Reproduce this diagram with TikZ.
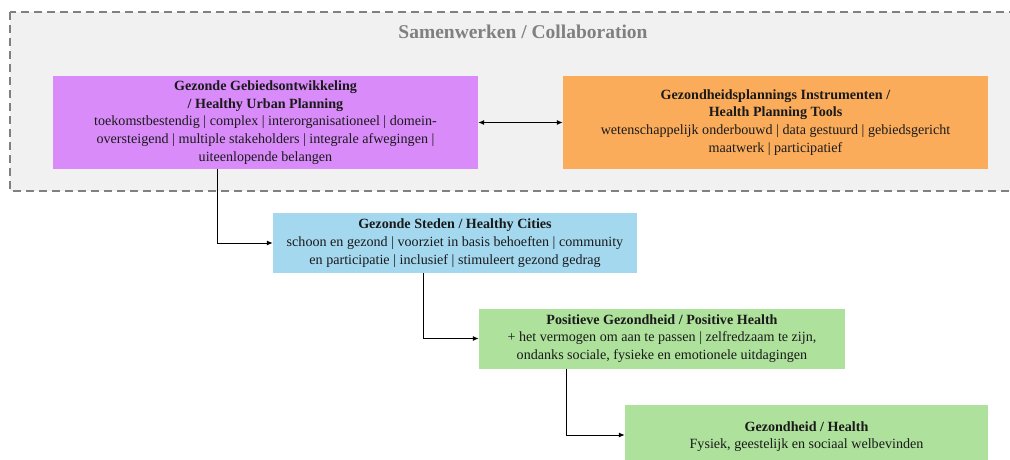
\documentclass[tikz,border=0pt]{standalone}
\usepackage{fontspec}
\setmainfont{Liberation Serif}
\usetikzlibrary{arrows.meta,calc}
\definecolor{bggray}{HTML}{F1F1F1}
\definecolor{dashgray}{HTML}{808080}
\definecolor{cpurple}{HTML}{D98BFA}
\definecolor{corange}{HTML}{FBAC5B}
\definecolor{cblue}{HTML}{A4D8EF}
\definecolor{cgreen}{HTML}{AEE19C}
\definecolor{txt}{HTML}{1A1A1A}
\tikzset{
  box/.style={draw=none, inner sep=0pt, align=center, text=txt,
    font=\fontsize{14.1}{17.8}\selectfont},
  conn/.style={draw=black, line width=1pt, -{Latex[length=6pt,width=5pt]}},
}
\begin{document}
\begin{tikzpicture}[x=1pt,y=-1pt]
\useasboundingbox (0,0) rectangle (1010,459);
\clip (0,0) rectangle (1010,459);
\fill[white] (0,0) rectangle (1010,459);
\draw[fill=bggray, draw=dashgray, line width=1.6pt, dash pattern=on 8pt off 5pt] (10,12) rectangle (1030,191);
\node[font=\fontsize{19.5}{22}\selectfont\bfseries, text=dashgray] (title) at (523,32) {Samenwerken / Collaboration};

\node[box, fill=cpurple, minimum width=425pt, minimum height=93pt] (pu) at (265.5,122.5)
  {\textbf{Gezonde Gebiedsontwikkeling}\\\textbf{/ Healthy Urban Planning}\\toekomstbestendig | complex | interorganisationeel | domein-\\oversteigend | multiple stakeholders | integrale afwegingen |\\uiteenlopende belangen};
\node[box, fill=corange, minimum width=425pt, minimum height=93pt] (or) at (775.5,122.5)
  {\textbf{Gezondheidsplannings Instrumenten /}\\\textbf{Health Planning Tools}\\wetenschappelijk onderbouwd | data gestuurd | gebiedsgericht\\maatwerk | participatief};
\node[box, fill=cblue, minimum width=364pt, minimum height=60pt] (bl) at (455,243)
  {\textbf{Gezonde Steden / Healthy Cities}\\schoon en gezond | voorziet in basis behoeften | community\\en participatie | inclusief | stimuleert gezond gedrag};
\node[box, fill=cgreen, minimum width=366pt, minimum height=60pt] (g1) at (662,338.5)
  {\textbf{Positieve Gezondheid / Positive Health}\\+ het vermogen om aan te passen | zelfredzaam te zijn,\\ondanks sociale, fysieke en emotionele uitdagingen};
\node[box, fill=cgreen, minimum width=363pt, minimum height=60pt, text depth=0pt] (g2) at (806.5,435)
  {\textbf{Gezondheid / Health}\\Fysiek, geestelijk en sociaal welbevinden};

\draw[line width=1pt, {Latex[length=6pt,width=5pt]}-{Latex[length=6pt,width=5pt]}] (pu.east) -- (or.west);
\draw[conn] ([xshift=-48.5pt]pu.south) |- (bl.west);
\draw[conn] ([xshift=-32pt]bl.south) |- (g1.west);
\draw[conn] ([xshift=-96pt]g1.south) |- (g2.west);
\end{tikzpicture}
\end{document}
